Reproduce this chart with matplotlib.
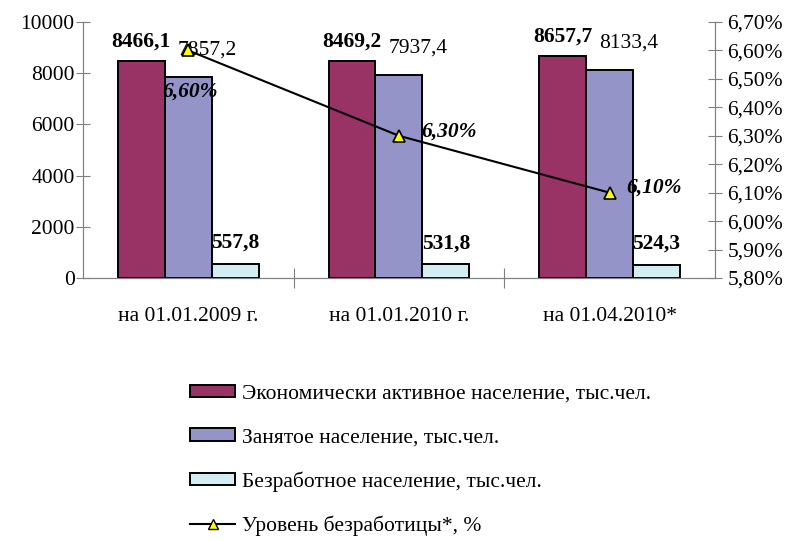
import numpy as np
import matplotlib
matplotlib.use('Agg')
import matplotlib.pyplot as plt
from matplotlib.patches import Patch
from matplotlib.lines import Line2D
from matplotlib.ticker import FuncFormatter

plt.rcParams['font.family'] = ['Liberation Serif', 'DejaVu Serif']
plt.rcParams['font.size'] = 15.5

# data
categories = ['на 01.01.2009 г.', 'на 01.01.2010 г.', 'на 01.04.2010*']
active = [8466.1, 8469.2, 8657.7]      # экономически активное
employed = [7857.2, 7937.4, 8133.4]    # занятое
unemployed = [557.8, 531.8, 524.3]     # безработное
rate = [6.60, 6.30, 6.10]              # уровень безработицы, %

names = ['Экономически активное население, тыс.чел.',
         'Занятое население, тыс.чел.',
         'Безработное население, тыс.чел.',
         'Уровень безработицы*, %']

col_act = '#993366'
col_emp = '#9494C8'
col_une = '#D4EDF3'
grey = '#808080'

def num(v):
    return ('%.1f' % v).replace('.', ',')

fig = plt.figure(figsize=(7.85, 5.41), dpi=100)
ax = fig.add_axes([0.1057, 0.4861, 0.8051, 0.4732])
ax2 = ax.twinx()

x = np.arange(len(categories))
w = 0.223
b1 = ax.bar(x - w, active, w, color=col_act, edgecolor='black', linewidth=1.4)
b2 = ax.bar(x, employed, w, color=col_emp, edgecolor='black', linewidth=1.4)
b3 = ax.bar(x + w, unemployed, w, color=col_une, edgecolor='black', linewidth=1.4)

ax.set_xlim(-0.5, 2.5)
ax.set_ylim(0, 10000)
ax.set_yticks(np.arange(0, 10001, 2000))
ax.set_xticks([0.5, 1.5])
ax.set_xticklabels([])
ax.set_xticks(x, minor=True)
ax.set_xticklabels(categories, minor=True)
ax.tick_params(axis='x', which='minor', length=0, pad=21)
ax.tick_params(axis='x', which='major', direction='inout', length=14, color=grey)
ax.tick_params(axis='y', direction='inout', length=10, color=grey, pad=1)

for s in ['top']:
    ax.spines[s].set_visible(False)
    ax2.spines[s].set_visible(False)
for s in ['left', 'right', 'bottom']:
    ax2.spines[s].set_color(grey)
    ax.spines[s].set_color(grey)

# value labels on the bars
for xi, v in zip(x, active):
    ax.annotate(num(v), (xi - w, v), xytext=(0, 20), textcoords='offset pixels',
                ha='center', va='center', fontweight='bold')
for xi, v in zip(x, employed):
    ax.annotate(num(v), (xi, v), xytext=(19, 27), textcoords='offset pixels',
                ha='center', va='center')
for xi, v in zip(x, unemployed):
    ax.annotate(num(v), (xi + w, v), xytext=(0, 21), textcoords='offset pixels',
                ha='center', va='center', fontweight='bold')

# unemployment rate on the right axis
ax2.plot(x, rate, color='black', linewidth=1.5, marker='^', markersize=9,
         markerfacecolor='#FFFF00', markeredgecolor='black', markeredgewidth=1.2)
ax2.set_ylim(5.8, 6.7)
ax2.set_yticks(np.arange(5.8, 6.71, 0.1))
ax2.yaxis.set_major_formatter(FuncFormatter(lambda v, p: ('%.2f%%' % v).replace('.', ',')))
ax2.tick_params(axis='y', direction='inout', length=10, color=grey, pad=4)

offs = [(2, -41), (50, 4), (44, 5)]
for xi, v, o in zip(x, rate, offs):
    ax2.annotate(('%.2f%%' % v).replace('.', ','), (xi, v), xytext=o,
                 textcoords='offset pixels', ha='center', va='center',
                 fontweight='bold', fontstyle='italic')

handles = [Patch(facecolor=col_act, edgecolor='black', linewidth=1.4),
           Patch(facecolor=col_emp, edgecolor='black', linewidth=1.4),
           Patch(facecolor=col_une, edgecolor='black', linewidth=1.4),
           Line2D([], [], color='black', linewidth=1.5, marker='^', markersize=7,
                  markerfacecolor='#FFFF00', markeredgecolor='black')]
fig.legend(handles, names, loc='upper left', bbox_to_anchor=(190 / 785, 1 - 385 / 541),
           frameon=False, borderpad=0, borderaxespad=0, handlelength=2.1,
           handleheight=0.5, handletextpad=0.3, labelspacing=1.12)

fig.savefig('out.png', dpi=100)
